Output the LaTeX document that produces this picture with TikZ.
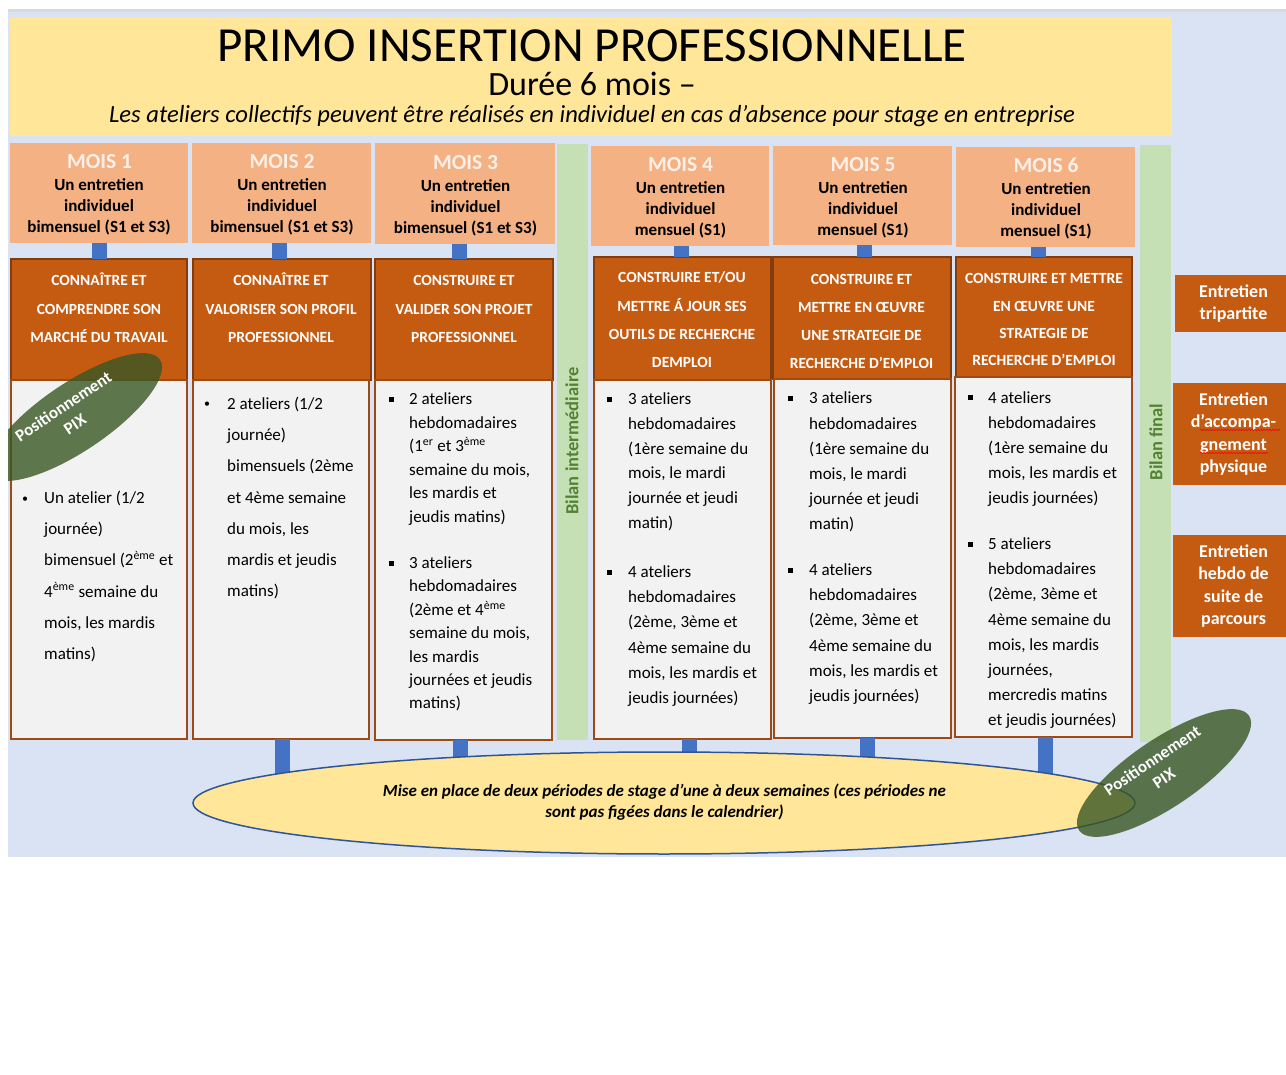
\documentclass[tikz,border=0pt]{standalone}
\usepackage{fontspec}
\setmainfont{Carlito}
\usetikzlibrary{shapes.geometric,decorations.pathmorphing}
\definecolor{bgblue}{HTML}{DAE3F3}
\definecolor{tyellow}{HTML}{FFE699}
\definecolor{salmon}{HTML}{F4B183}
\definecolor{orng}{HTML}{C55A11}
\definecolor{obord}{HTML}{843C0C}
\definecolor{cgray}{HTML}{F2F2F2}
\definecolor{cbord}{HTML}{9E4A13}
\definecolor{gbar}{HTML}{C5E0B4}
\definecolor{gtext}{HTML}{548235}
\definecolor{cblue}{HTML}{4472C4}
\definecolor{eblue}{HTML}{2F5597}
\definecolor{pixg}{HTML}{385723}
\definecolor{moisc}{HTML}{FDF0E8}
\newcommand\txtlines[6]{\foreach \t [count=\i] in {#6} {\node[anchor=base west,#1] (#2\i) at (#3,{#4+(\i-1)*#5}) {\t};}}
\tikzset{
 box/.style={rectangle, anchor=north west, inner sep=0pt, outer sep=0pt},
 hbox/.style={box, fill=salmon},
 obox/.style={box, fill=orng, draw=obord, line width=1.6pt},
 cbox/.style={box, fill=cgray, draw=cbord, line width=1.6pt},
 gbox/.style={box, fill=gbar},
 rbox/.style={box, fill=orng, text=white, align=center, font=\bfseries\fontsize{18}{22.5}\selectfont},
 conn/.style={draw=cblue, line width=15pt},
 moist/.style={anchor=base, inner sep=0pt, font=\bfseries\fontsize{21.5}{24}\selectfont, text=moisc},
 headt/.style={anchor=base, inner sep=0pt, font=\bfseries\fontsize{17}{20}\selectfont},
 ot/.style={anchor=base, inner sep=0pt, font=\bfseries\fontsize{15.5}{18}\selectfont, text=white},
 bt/.style={inner sep=0pt, font=\fontsize{17}{20}\selectfont},
 rb/.style={inner sep=0pt, anchor=base, font=\fontsize{12}{14}\selectfont},
 sqb/.style={fill=black, minimum size=5pt, inner sep=0pt, anchor=center},
 bilan/.style={rotate=90, font=\bfseries\fontsize{18.5}{20}\selectfont, text=gtext, inner sep=0pt},
 pix/.style={ellipse, fill=pixg, fill opacity=0.8, minimum width=205pt, minimum height=68pt, inner sep=0pt, rotate=34},
 pixt/.style={rotate=34, align=center, text=white, font=\bfseries\fontsize{17}{21}\selectfont, inner sep=0pt},
 squig/.style={draw=red, line width=0.6pt, decorate, decoration={snake, amplitude=0.8pt, segment length=3pt}},
 ett/.style={anchor=base, inner sep=0pt, font=\bfseries\itshape\fontsize{17}{21}\selectfont},
}
\begin{document}
\begin{tikzpicture}[x=1pt,y=-1pt]
\useasboundingbox (0,0) rectangle (1286,1075);
\fill[white] (0,0) rectangle (1286,1075);
\fill[bgblue] (8,12) rectangle (1290,857);
\fill[gray!30] (8,9) rectangle (1290,12);
% title
\node[box, fill=tyellow, minimum width=1162pt, minimum height=119pt] (tb) at (10,17) {};
\node[anchor=base, inner sep=0pt, font=\fontsize{49}{56}\selectfont] (t1) at (592,62) {PRIMO INSERTION PROFESSIONNELLE};
\node[anchor=base, inner sep=0pt, font=\fontsize{34}{40}\selectfont] (t2) at (592,96) {Durée 6 mois –};
\node[anchor=base, inner sep=0pt, font=\itshape\fontsize{24.6}{28}\selectfont] (t3) at (592,122.5) {Les ateliers collectifs peuvent être réalisés en individuel en cas d’absence pour stage en entreprise};
% headers
\node[hbox, minimum width=178pt, minimum height=100pt] (h1) at (10,143) {};
\node[hbox, minimum width=179pt, minimum height=100pt] (h2) at (192,143) {};
\node[hbox, minimum width=180pt, minimum height=101pt] (h3) at (375,143) {};
\node[hbox, minimum width=178pt, minimum height=100pt] (h4) at (591,146) {};
\node[hbox, minimum width=179pt, minimum height=99pt] (h5) at (773,146) {};
\node[hbox, minimum width=179pt, minimum height=100pt] (h6) at (956,147) {};
% green bars
\node[gbox, minimum width=31pt, minimum height=596pt] (g1) at (557,144) {};
\node[gbox, minimum width=31pt, minimum height=597pt] (g2) at (1140,145) {};
% orange boxes
\node[obox, minimum width=176pt, minimum height=121pt] (o1) at (11,259) {};
\node[obox, minimum width=178pt, minimum height=121pt] (o2) at (193,259) {};
\node[obox, minimum width=178pt, minimum height=121pt] (o3) at (375,259) {};
\node[obox, minimum width=177pt, minimum height=123pt] (o4) at (594,257) {};
\node[obox, minimum width=178pt, minimum height=122pt] (o5) at (773,257) {};
\node[obox, minimum width=176pt, minimum height=120pt] (o6) at (956,257) {};
% top connectors
\draw[conn] ([xshift=0.5pt]h1.south) -- ([xshift=0.5pt]h1.south |- o1.north);
\draw[conn] ([xshift=-2pt]h2.south) -- ([xshift=-2pt]h2.south |- o2.north);
\draw[conn] ([xshift=-6pt]h3.south) -- ([xshift=-6pt]h3.south |- o3.north);
\draw[conn] ([xshift=1.5pt]h4.south) -- ([xshift=1.5pt]h4.south |- o4.north);
\draw[conn] ([xshift=1.5pt]h5.south) -- ([xshift=1.5pt]h5.south |- o5.north);
\draw[conn] ([xshift=-7pt]h6.south) -- ([xshift=-7pt]h6.south |- o6.north);
% content boxes
\node[cbox, minimum width=176pt, minimum height=359pt] (c1) at (11,380) {};
\node[cbox, minimum width=176pt, minimum height=359pt] (c2) at (193,380) {};
\node[cbox, minimum width=177pt, minimum height=360pt] (c3) at (375,380) {};
\node[cbox, minimum width=177pt, minimum height=359pt] (c4) at (594,380) {};
\node[cbox, minimum width=177pt, minimum height=359pt] (c5) at (774,379) {};
\node[cbox, minimum width=177pt, minimum height=360pt] (c6) at (955,377) {};
% header texts
\node[moist] (m1) at (99.5,169) {MOIS 1};
\txtlines{headt}{ha}{99}{190.5}{21}{{Un entretien},{individuel},{bimensuel (S1 et S3)}}
\node[moist] (m2) at (282,169) {MOIS 2};
\txtlines{headt}{hb}{282}{190.5}{21}{{Un entretien},{individuel},{bimensuel (S1 et S3)}}
\node[moist] (m3) at (465.5,170) {MOIS 3};
\txtlines{headt}{hc}{465.5}{191.5}{21}{{Un entretien},{individuel},{bimensuel (S1 et S3)}}
\node[moist] (m4) at (680.5,172) {MOIS 4};
\txtlines{headt}{hd}{680.5}{193.5}{21}{{Un entretien},{individuel},{mensuel (S1)}}
\node[moist] (m5) at (863,171.5) {MOIS 5};
\txtlines{headt}{he}{863}{193.5}{21}{{Un entretien},{individuel},{mensuel (S1)}}
\node[moist] (m6) at (1046,173) {MOIS 6};
\txtlines{headt}{hf}{1046}{194.5}{21}{{Un entretien},{individuel},{mensuel (S1)}}
% orange texts
\txtlines{ot}{oa}{99}{286}{28.5}{{CONNAÎTRE ET},{COMPRENDRE SON},{MARCHÉ DU TRAVAIL}}
\txtlines{ot}{ob}{281}{286}{28.5}{{CONNAÎTRE ET},{VALORISER SON PROFIL},{PROFESSIONNEL}}
\txtlines{ot}{oc}{464}{286}{28.5}{{CONSTRUIRE ET},{VALIDER SON PROJET},{PROFESSIONNEL}}
\txtlines{ot}{od}{682}{283}{28.3}{{CONSTRUIRE ET/OU},{METTRE Á JOUR SES},{OUTILS DE RECHERCHE},{DEMPLOI}}
\txtlines{ot}{oe}{861.5}{285}{27.8}{{CONSTRUIRE ET},{METTRE EN ŒUVRE},{UNE STRATEGIE DE},{RECHERCHE D’EMPLOI}}
\txtlines{ot}{of}{1044}{284}{27.3}{{CONSTRUIRE ET METTRE},{EN ŒUVRE UNE},{STRATEGIE DE},{RECHERCHE D’EMPLOI}}
% content texts
\node[rb] (b1) at (25,502) {•};
\txtlines{bt}{ca}{44}{503.5}{31.2}{{Un atelier (1/2},{journée)},{bimensuel (2\textsuperscript{ème} et},{4\textsuperscript{ème} semaine du},{mois, les mardis},{matins)}}
\node[rb] (b2) at (207,408) {•};
\txtlines{bt}{cb}{227}{409.5}{31.2}{{2 ateliers (1/2},{journée)},{bimensuels (2ème},{et 4ème semaine},{du mois, les},{mardis et jeudis},{matins)}}
\node[sqb] (b3a) at (391,399.5) {};
\txtlines{bt}{cc}{409}{404.5}{23.6}{{2 ateliers},{hebdomadaires},{(1\textsuperscript{er} et 3\textsuperscript{ème}},{semaine du mois,},{les mardis et},{jeudis matins)}}
\node[sqb] (b3b) at (391,563.5) {};
\txtlines{bt}{cd}{409}{568.5}{23.4}{{3 ateliers},{hebdomadaires},{(2ème et 4\textsuperscript{ème}},{semaine du mois,},{les mardis},{journées et jeudis},{matins)}}
\node[sqb] (b4a) at (609,399.5) {};
\txtlines{bt}{ce}{628}{404.5}{24.8}{{3 ateliers},{hebdomadaires},{(1ère semaine du},{mois, le mardi},{journée et jeudi},{matin)}}
\node[sqb] (b4b) at (609,572.5) {};
\txtlines{bt}{cf}{628}{577.5}{25.2}{{4 ateliers},{hebdomadaires},{(2ème, 3ème et},{4ème semaine du},{mois, les mardis et},{jeudis journées)}}
\node[sqb] (b5a) at (790,399) {};
\txtlines{bt}{cg}{809}{404}{25.1}{{3 ateliers},{hebdomadaires},{(1ère semaine du},{mois, le mardi},{journée et jeudi},{matin)}}
\node[sqb] (b5b) at (790,570.5) {};
\txtlines{bt}{ch}{809}{575.5}{25.2}{{4 ateliers},{hebdomadaires},{(2ème, 3ème et},{4ème semaine du},{mois, les mardis et},{jeudis journées)}}
\node[sqb] (b6a) at (970,398) {};
\txtlines{bt}{ci}{988}{403}{25.1}{{4 ateliers},{hebdomadaires},{(1ère semaine du},{mois, les mardis et},{jeudis journées)}}
\node[sqb] (b6b) at (970,544.5) {};
\txtlines{bt}{cj}{988}{549.5}{25.2}{{5 ateliers},{hebdomadaires},{(2ème, 3ème et},{4ème semaine du},{mois, les mardis},{journées,},{mercredis matins},{et jeudis journées)}}
% bilan texts
\node[bilan] (bl1) at (572,441) {Bilan intermédiaire};
\node[bilan] (bl2) at (1156,442) {Bilan final};
% right boxes
\node[rbox, minimum width=117pt, minimum height=57pt] (r1) at (1175,275) {Entretien\\tripartite};
\node[rbox, minimum width=121pt, minimum height=102pt] (r2) at (1173,383) {Entretien\\d’accompa-\\gnement\\physique};
\node[rbox, minimum width=121pt, minimum height=102pt] (r3) at (1173,535) {Entretien\\hebdo de\\suite de\\parcours};
\draw[squig] (1200,430) -- (1280,430);
\draw[squig] (1200,453) -- (1268,453);
% top-left PIX
\begin{scope}
\clip (8,12) rectangle (1290,857);
\node[pix] (p1) at (75,417) {};
\end{scope}
\node[pixt] (p1t) at (69,415) {Positionnement\\PIX};
% bottom connectors and ellipse
\node[ellipse, minimum width=942pt, minimum height=102pt, inner sep=0pt] (e0) at (664,803) {};
\draw[conn] ([xshift=1pt]c2.south) -- ([xshift=1pt]c2.south |- e0.center);
\draw[conn] ([xshift=-3.5pt]c3.south) -- ([xshift=-3.5pt]c3.south |- e0.center);
\draw[conn] ([xshift=7pt]c4.south) -- ([xshift=7pt]c4.south |- e0.center);
\draw[conn] ([xshift=5pt]c5.south) -- ([xshift=5pt]c5.south |- e0.center);
\draw[conn] ([xshift=2pt]c6.south) -- ([xshift=2pt]c6.south |- e0.center);
\node[ellipse, draw=eblue, line width=1.5pt, fill=tyellow, minimum width=942pt, minimum height=102pt, inner sep=0pt] (e) at (664,803) {};
\node[ett] (et1) at (664.5,796) {Mise en place de deux périodes de stage d’une à deux semaines (ces périodes ne};
\node[ett] (et2) at (664.5,817) {sont pas figées dans le calendrier)};
\node[pix] (p2) at (1164,773) {};
\node[pixt] (p2t) at (1158,769) {Positionnement\\PIX};
\end{tikzpicture}
\end{document}
